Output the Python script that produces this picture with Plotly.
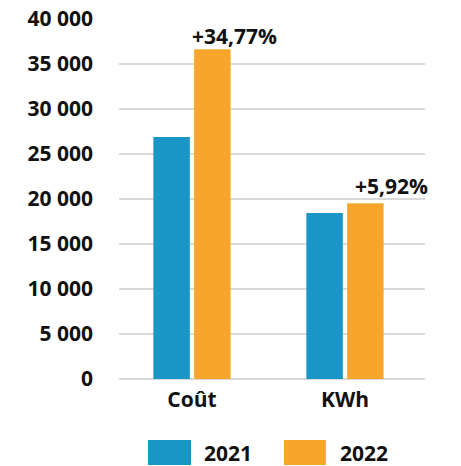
import plotly.graph_objects as go

categories = ["Coût", "KWh"]
years = ["2021", "2022"]
values_2021 = [26900, 18450]
values_2022 = [36650, 19540]
growth_labels = ["+34,77%", "+5,92%"]
y_ticks = [0, 5000, 10000, 15000, 20000, 25000, 30000, 35000, 40000]

colors = ["#1A96C6", "#F7A62B"]
FONT = "Open Sans"
TXT = dict(family=FONT, size=21, color="#111111", weight="bold")

fig = go.Figure()
for name, vals, col in zip(years, [values_2021, values_2022], colors):
    fig.add_trace(go.Bar(x=categories, y=vals, name=name, marker_color=col,
                         marker_line_width=0, showlegend=False))

# growth annotations above the 2022 bars
xshifts = [-2, 8]
yshifts = [13, 17.5]
for cat, v, lab, xs, ys in zip(categories, values_2022, growth_labels, xshifts, yshifts):
    fig.add_annotation(x=cat, y=v, text=lab, showarrow=False, xanchor="left",
                       yanchor="middle", xshift=xs, yshift=ys, font=TXT)

# custom legend (large swatches)
leg_x0 = [0.0948, 0.539]
leg_x1 = [0.2353, 0.676]
leg_tx = [0.271, 0.716]
for name, col, x0, x1, tx in zip(years, colors, leg_x0, leg_x1, leg_tx):
    fig.add_shape(type="rect", xref="paper", yref="paper", x0=x0, x1=x1,
                  y0=-0.2389, y1=-0.1694, fillcolor=col, line_width=0)
    fig.add_annotation(xref="paper", yref="paper", x=tx, y=-0.2056, text=name,
                       showarrow=False, xanchor="left", yanchor="middle", font=TXT)

fig.update_layout(
    width=461, height=466,
    margin=dict(l=119, r=36, t=19, b=87, autoexpand=False),
    paper_bgcolor="white", plot_bgcolor="white",
    barmode="group", bargap=0.467, bargroupgap=0.105,
    separators=", ",
    font=TXT,
    xaxis=dict(range=[-0.477, 1.523], showgrid=False, showline=False, ticks="",
               automargin=False, ticklabelstandoff=6, tickfont=TXT),
    yaxis=dict(range=[0, 40000], tickvals=y_ticks, tickformat=",d",
               showgrid=True, gridcolor="#D9D9D9", gridwidth=1.5,
               zeroline=True, zerolinecolor="#D9D9D9", zerolinewidth=1.5,
               showline=False, ticks="", ticklabelstandoff=25, automargin=False,
               ticklabeloverflow="allow", tickfont=TXT),
)

# remove the default 8px page margin so the figure fills the window exactly
fig.write_html("out.html", config={"displayModeBar": False},
               post_script="document.body.style.margin='0';document.body.style.padding='0';")
